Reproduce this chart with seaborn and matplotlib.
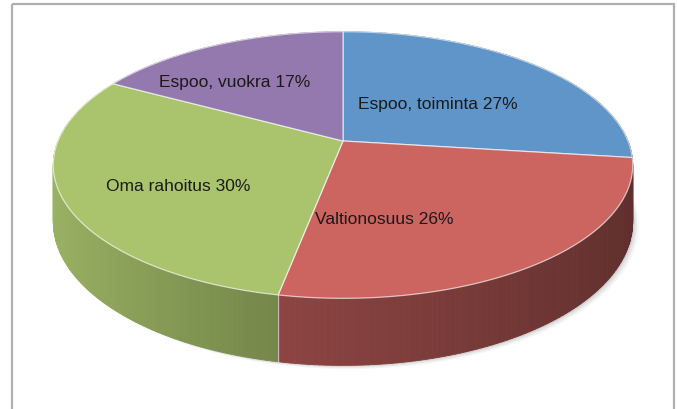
import numpy as np
import matplotlib
matplotlib.use("Agg")
import matplotlib.pyplot as plt
import seaborn as sns
from matplotlib.collections import PolyCollection
from matplotlib.colors import to_rgb
from matplotlib.patches import Rectangle, Polygon

# data
labels = ["Espoo, toiminta", "Valtionosuus", "Oma rahoitus", "Espoo, vuokra"]
shares = [27, 26, 30, 17]
top_colors = ["#5f95c9", "#cc6460", "#a9c46c", "#9379ae"]

# label anchors (screen px) and projection of the tilted disc
label_pos = [(438, 105), (384, 220), (178, 187), (235, 82)]
CX, CY = 343, 142      # where the slices meet
S, V = 285, 129        # horizontal / vertical radius
K = 0.18               # perspective strength
H = 55                 # wall height


def proj(t, z=0.0):
    x, y = np.sin(t), np.cos(t)
    w = 1 + K * y
    return CX + S * x / w, CY - (V * y + H * z) / w


def shade(t):
    return np.interp(np.sin(t), [-1, -0.19, 1], [0.92, 0.69, 0.46])


sns.set_theme(style="white")
plt.rcParams["font.family"] = ["Liberation Sans Narrow", "Liberation Sans", "DejaVu Sans"]

fig = plt.figure(figsize=(6.78, 4.10), dpi=100)
ax = fig.add_axes([0, 0, 1, 1])
ax.set_xlim(0, 678)
ax.set_ylim(410, 0)
ax.axis("off")

ax.add_patch(Rectangle((12, 5), 662, 420, fill=False, edgecolor="#b0b0b0", lw=1.6))

edges = np.concatenate([[0], np.cumsum(shares)]) / sum(shares) * 2 * np.pi

# soft shadow
tt = np.linspace(0, 2 * np.pi, 200)
bx, by = proj(tt, -1)
for off, a in [(6, 0.04), (4, 0.06), (2, 0.08)]:
    ax.add_patch(Polygon(np.c_[bx + off, by + off * 0.6], closed=True,
                         facecolor="black", alpha=a, lw=0))

# side walls
polys, cols, depth = [], [], []
for i in range(len(shares)):
    ts = np.linspace(edges[i], edges[i + 1], int(np.degrees(edges[i + 1] - edges[i])) + 2)
    base = np.array(to_rgb(top_colors[i]))
    for a0, a1 in zip(ts[:-1], ts[1:]):
        x0, y0 = proj(a0)
        x1, y1 = proj(a1)
        x2, y2 = proj(a1, -1)
        x3, y3 = proj(a0, -1)
        polys.append([(x0, y0), (x1, y1), (x2, y2), (x3, y3)])
        cols.append(base * shade((a0 + a1) / 2))
        depth.append(np.cos((a0 + a1) / 2))
order = np.argsort(depth)[::-1]
ax.add_collection(PolyCollection([polys[j] for j in order],
                                 facecolors=[cols[j] for j in order],
                                 edgecolors=[cols[j] for j in order], linewidths=0.6))

for e in edges[:-1]:
    if np.cos(e) < -0.2:
        x0, y0 = proj(e)
        x1, y1 = proj(e, -1)
        ax.plot([x0, x1], [y0, y1], color="white", alpha=0.6, lw=0.9)

# top face
for i in range(len(shares)):
    ts = np.linspace(edges[i], edges[i + 1], 120)
    xs, ys = proj(ts)
    pts = np.c_[np.r_[CX, xs], np.r_[CY, ys]]
    ax.add_patch(Polygon(pts, closed=True, facecolor=top_colors[i],
                         edgecolor=(1, 1, 1, 0.65), lw=0.9))

for lab, v, (lx, ly) in zip(labels, shares, label_pos):
    ax.text(lx, ly, f"{lab} {v}%", ha="center", va="center",
            fontsize=12.5, color="#1a1a1a")

fig.savefig("out.png", dpi=100)
